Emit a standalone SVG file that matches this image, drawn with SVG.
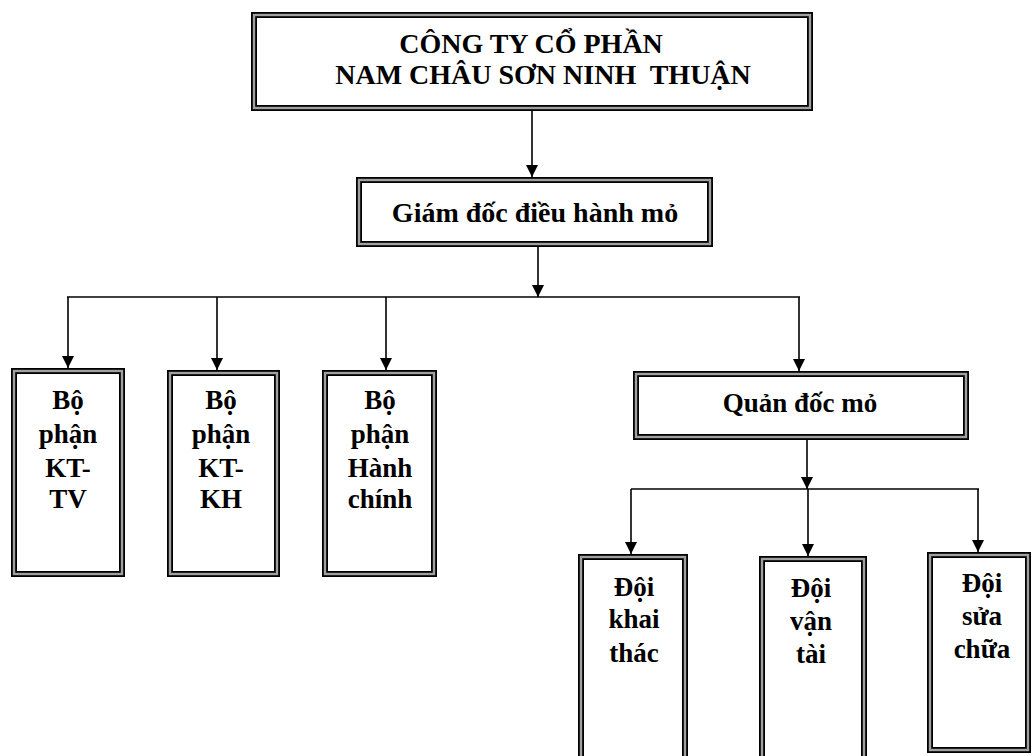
<svg xmlns="http://www.w3.org/2000/svg" width="1032" height="756" viewBox="0 0 1032 756">
<style>
.bo{fill:#fff;stroke:#000;stroke-width:6}
.bi{fill:none;stroke:#a0a0a0;stroke-width:2.4}
.t{font-family:"Liberation Serif","Times New Roman",serif;font-weight:bold;font-size:27px;fill:#000;text-anchor:middle}
.big{font-size:28px}
.c{stroke:#000;stroke-width:1.6;fill:none}
.a{stroke:#000;stroke-width:1.6;fill:none;marker-end:url(#ar)}
</style>
<defs>
<marker id="ar" viewBox="0 0 12 12" refX="12" refY="6" markerWidth="12" markerHeight="12" markerUnits="userSpaceOnUse" orient="auto">
<path d="M0,0 L12,6 L0,12 Z" fill="#000"/>
</marker>
</defs>
<rect width="1032" height="756" fill="#fff"/>
<g id="connectors">
<line class="a" x1="532" y1="111" x2="532" y2="177"/>
<line class="a" x1="538" y1="247" x2="538" y2="297"/>
<line class="c" x1="67" y1="297" x2="800" y2="297"/>
<line class="a" x1="68" y1="297" x2="68" y2="368"/>
<line class="a" x1="217" y1="297" x2="217" y2="370"/>
<line class="a" x1="386" y1="297" x2="386" y2="370"/>
<line class="a" x1="799" y1="297" x2="799" y2="371"/>
<line class="a" x1="807" y1="440" x2="807" y2="489"/>
<line class="c" x1="631" y1="489" x2="979" y2="489"/>
<line class="a" x1="631" y1="489" x2="631" y2="554"/>
<line class="a" x1="808" y1="489" x2="808" y2="556"/>
<line class="a" x1="978" y1="489" x2="978" y2="552"/>
</g>
<g id="company">
<rect class="bo" x="254" y="15" width="556" height="93"/>
<rect class="bi" x="254" y="15" width="556" height="93"/>
<text class="t big" x="531" y="53">CÔNG TY CỔ PHẦN</text>
<text class="t big" x="543" y="84">NAM CHÂU SƠN NINH&#160; THUẬN</text>
</g>
<g id="giamdoc">
<rect class="bo" x="359" y="180" width="351" height="64"/>
<rect class="bi" x="359" y="180" width="351" height="64"/>
<text class="t big" x="535" y="222">Giám đốc điều hành mỏ</text>
</g>
<g id="ktv">
<rect class="bo" x="14" y="371" width="108" height="203"/>
<rect class="bi" x="14" y="371" width="108" height="203"/>
<text class="t" x="68" y="409">Bộ</text>
<text class="t" x="68" y="443">phận</text>
<text class="t" x="68" y="477">KT-</text>
<text class="t" x="68" y="508">TV</text>
</g>
<g id="ktkh">
<rect class="bo" x="170" y="373" width="107" height="201"/>
<rect class="bi" x="170" y="373" width="107" height="201"/>
<text class="t" x="221" y="409">Bộ</text>
<text class="t" x="221" y="443">phận</text>
<text class="t" x="221" y="477">KT-</text>
<text class="t" x="221" y="508">KH</text>
</g>
<g id="hanhchinh">
<rect class="bo" x="325" y="373" width="109" height="201"/>
<rect class="bi" x="325" y="373" width="109" height="201"/>
<text class="t" x="380" y="409">Bộ</text>
<text class="t" x="380" y="443">phận</text>
<text class="t" x="380" y="477">Hành</text>
<text class="t" x="380" y="508">chính</text>
</g>
<g id="quandoc">
<rect class="bo" x="636" y="374" width="330" height="63"/>
<rect class="bi" x="636" y="374" width="330" height="63"/>
<text class="t" x="800" y="412">Quản đốc mỏ</text>
</g>
<g id="khaithac">
<rect class="bo" x="581" y="557" width="104" height="220"/>
<rect class="bi" x="581" y="557" width="104" height="220"/>
<text class="t" x="634" y="596">Đội</text>
<text class="t" x="634" y="628">khai</text>
<text class="t" x="634" y="662">thác</text>
</g>
<g id="vantai">
<rect class="bo" x="762" y="559" width="102" height="220"/>
<rect class="bi" x="762" y="559" width="102" height="220"/>
<text class="t" x="811" y="597">Đội</text>
<text class="t" x="811" y="630">vận</text>
<text class="t" x="811" y="663">tài</text>
</g>
<g id="suachua">
<rect class="bo" x="930" y="555" width="98" height="195"/>
<rect class="bi" x="930" y="555" width="98" height="195"/>
<text class="t" x="982" y="592">Đội</text>
<text class="t" x="982" y="625">sửa</text>
<text class="t" x="982" y="658">chữa</text>
</g>
</svg>
